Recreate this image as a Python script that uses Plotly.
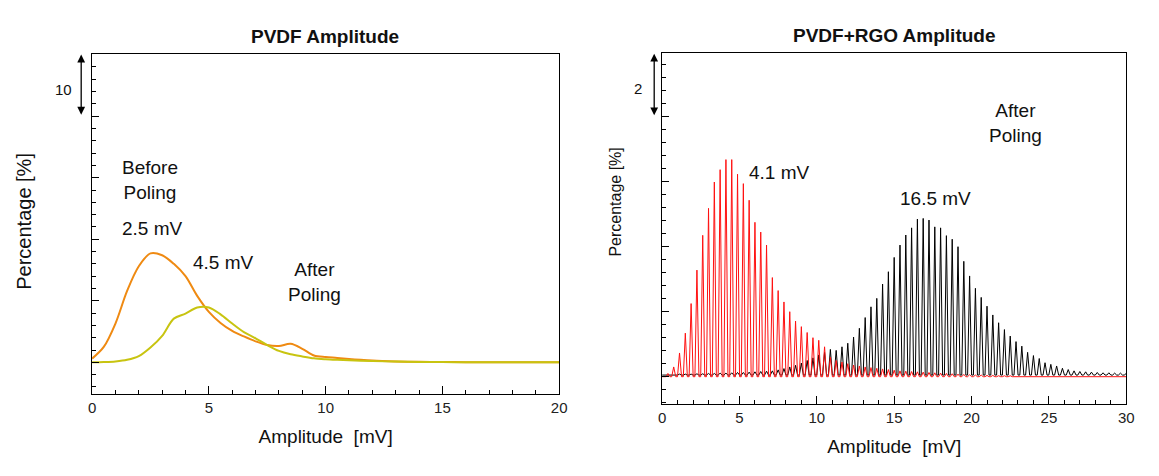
import plotly.graph_objects as go

# ---------------- data ----------------
# Left panel: PVDF amplitude distributions (percentage vs amplitude, mV)
amp_left = [0, 0.5, 1.0, 1.5, 2.0, 2.5, 3.0, 3.5, 4.0, 4.5, 5.0, 5.5, 6.0, 6.5, 7.0,
            7.5, 8.0, 8.5, 9.0, 9.5, 10.0, 10.5, 11.0, 11.5, 12.0, 13.0, 14.0, 15.0,
            16.0, 17.0, 18.0, 19.0, 20.0]
before_poling = [0.6, 2.5, 6.3, 11.6, 15.6, 17.7, 17.4, 16.0, 14.0, 10.8, 8.2, 6.4, 5.1,
                 4.2, 3.4, 2.8, 2.65, 3.0, 2.2, 1.1, 0.85, 0.72, 0.55, 0.4, 0.28, 0.15,
                 0.08, 0.05, 0.02, 0.01, 0.0, 0.0, 0.0]
after_poling = [0.0, 0.05, 0.15, 0.4, 1.0, 2.4, 4.3, 7.1, 7.9, 8.9, 8.9, 7.8, 6.3, 4.9,
                3.9, 2.8, 1.85, 1.3, 0.95, 0.65, 0.5, 0.4, 0.32, 0.26, 0.2, 0.12, 0.07,
                0.04, 0.02, 0.01, 0.0, 0.0, 0.0]

# Right panel: PVDF+RGO amplitude histogram (bin index k -> amplitude k*bin_width)
bin_width = 0.375
bins = list(range(1, 81))
rgo_before = [0.1, 0.3, 0.73, 1.34, 2.25, 3.28, 4.35, 5.18, 5.99, 6.37,
              6.68, 6.68, 6.23, 5.94, 5.43, 4.75, 4.45, 4.05, 3.05, 2.65,
              2.3, 2.0, 1.71, 1.54, 1.36, 1.2, 1.12, 0.92, 0.6, 0.5,
              0.45, 0.4, 0.36, 0.33, 0.3, 0.28, 0.26, 0.24, 0.22, 0.2,
              0.18, 0.17, 0.16, 0.15, 0.14, 0.13, 0.12, 0.11, 0.1, 0.09,
              0.08, 0.07, 0.06, 0.05, 0.05, 0.04, 0.04, 0.03, 0.03, 0.03,
              0.02, 0.02, 0.02, 0.02, 0.02, 0.02, 0.01, 0.01, 0.01, 0.01,
              0.01, 0.01, 0.01, 0.01, 0.01, 0.01, 0.01, 0.01, 0.01, 0.01]
rgo_after = [0.02, 0.02, 0.03, 0.03, 0.03, 0.04, 0.04, 0.05, 0.05, 0.06,
             0.06, 0.07, 0.08, 0.08, 0.09, 0.1, 0.11, 0.12, 0.13, 0.16,
             0.2, 0.25, 0.3, 0.37, 0.45, 0.53, 0.62, 0.7, 0.79, 0.76,
             0.87, 0.98, 1.17, 1.44, 1.77, 2.1, 2.36, 2.8, 3.18, 3.62,
             4.0, 4.31, 4.53, 4.8, 4.82, 4.77, 4.56, 4.53, 4.29, 4.18,
             3.95, 3.5, 3.05, 2.67, 2.39, 2.12, 1.85, 1.61, 1.4, 1.2,
             1.03, 0.89, 0.7, 0.6, 0.51, 0.38, 0.33, 0.28, 0.21, 0.17,
             0.13, 0.11, 0.1, 0.09, 0.08, 0.07, 0.07, 0.06, 0.06, 0.05]

# ---------------- styling ----------------
FONT = "Liberation Sans, Arial, sans-serif"
W, H = 1159, 476
ORANGE = "#EF8A12"
YELLOW = "#C8C410"
RED = "#FF1010"
BLACK = "#000000"
spike_half = 0.13      # half base width of each histogram spike (mV)
black_offset = 0.05    # small baseline offset of the black trace


def spikes(values, x_end, offset):
    xs, ys = [0.0], [offset]
    for k, v in zip(bins, values):
        c = k * bin_width
        xs += [c - spike_half, c, c + spike_half]
        ys += [offset, offset + v, offset]
    xs.append(x_end)
    ys.append(offset)
    return xs, ys


def px(x):
    return x / W


def py(y):
    return 1 - y / H


fig = go.Figure()

fig.add_trace(go.Scatter(x=amp_left, y=before_poling, mode="lines",
                         line=dict(color=ORANGE, width=2, shape="spline", smoothing=0.9),
                         xaxis="x", yaxis="y", showlegend=False))
fig.add_trace(go.Scatter(x=amp_left, y=after_poling, mode="lines",
                         line=dict(color=YELLOW, width=2, shape="spline", smoothing=0.9),
                         xaxis="x", yaxis="y", showlegend=False))

bx, by = spikes(rgo_after, 30, black_offset)
fig.add_trace(go.Scatter(x=bx, y=by, mode="lines", line=dict(color=BLACK, width=1),
                         xaxis="x2", yaxis="y2", showlegend=False))
rx, ry = spikes(rgo_before, 30, 0.0)
fig.add_trace(go.Scatter(x=rx, y=ry, mode="lines", line=dict(color=RED, width=1),
                         xaxis="x2", yaxis="y2", showlegend=False))

axis_common = dict(showline=True, linecolor="black", linewidth=1, mirror=True,
                   showgrid=False, zeroline=False, ticks="inside", tickcolor="black",
                   tickfont=dict(family=FONT, size=15, color="#222"))

fig.update_layout(
    height=H, autosize=True,
    margin=dict(l=0, r=0, t=0, b=0),
    paper_bgcolor="white", plot_bgcolor="white",
    font=dict(family=FONT, color="#111"),
    xaxis=dict(domain=[px(89), px(561)], range=[0, 20], anchor="y",
               tickmode="linear", tick0=0, dtick=5, ticklen=8,
               minor=dict(ticks="inside", ticklen=4, dtick=1, tickcolor="black"),
               title=dict(text="Amplitude\u00a0 [mV]", font=dict(family=FONT, size=19),
                          standoff=14),
               **axis_common),
    yaxis=dict(domain=[py(394), py(54)], range=[-5.15, 50.1], anchor="x",
               tickmode="linear", tick0=0, dtick=10, ticklen=7, showticklabels=False,
               minor=dict(ticks="inside", ticklen=4, dtick=2, tickcolor="black"),
               **axis_common),
    xaxis2=dict(domain=[px(665), px(1134)], range=[0, 30], anchor="y2",
                tickmode="linear", tick0=0, dtick=5, ticklen=8,
                minor=dict(ticks="inside", ticklen=4, dtick=1, tickcolor="black"),
                title=dict(text="Amplitude\u00a0 [mV]", font=dict(family=FONT, size=19),
                           standoff=14),
                **axis_common),
    yaxis2=dict(domain=[py(404), py(53)], range=[-0.84, 9.96], anchor="x2",
                tickmode="linear", tick0=0, dtick=2, ticklen=7, showticklabels=False,
                minor=dict(ticks="inside", ticklen=4, dtick=0.4, tickcolor="black"),
                **axis_common),
)

ann = []


def text(x, y, s, size=19, bold=False):
    ann.append(dict(x=px(x), y=py(y), xref="paper", yref="paper", text=(f"<b>{s}</b>" if bold else s),
                    showarrow=False, xanchor="center", yanchor="middle",
                    font=dict(family=FONT, size=size, color="#111")))


# titles
text(324, 37, "PVDF Amplitude", size=19, bold=True)
text(900, 36, "PVDF+RGO Amplitude", size=19, bold=True)
# y-axis titles
ann.append(dict(x=px(20), y=py(221), xref="paper", yref="paper", text="Percentage [%]",
                textangle=-90, showarrow=False, xanchor="center", yanchor="middle",
                font=dict(family=FONT, size=20, color="#111")))
ann.append(dict(x=px(617), y=py(202), xref="paper", yref="paper", text="Percentage [%]",
                textangle=-90, showarrow=False, xanchor="center", yanchor="middle",
                font=dict(family=FONT, size=16, color="#111")))
# in-plot labels
text(148, 180, "Before<br>Poling")
text(150, 228, "2.5 mV")
text(222, 262, "4.5 mV")
text(314, 282, "After<br>Poling")
text(784, 172, "4.1 mV")
text(941, 198, "16.5 mV")
text(1022, 123, "After<br>Poling")
# scale bars
text(60, 89, "10", size=15)
text(641, 88, "2", size=15)
ann.append(dict(x=px(78), y=50.0, xref="paper", yref="y", ax=0, ay=40.0, axref="pixel",
                ayref="y", text="", showarrow=True, arrowhead=2, arrowside="end+start",
                arrowsize=1.2, arrowwidth=1.3, arrowcolor="black"))
ann.append(dict(x=px(657), y=9.94, xref="paper", yref="y2", ax=0, ay=8.0, axref="pixel",
                ayref="y2", text="", showarrow=True, arrowhead=2, arrowside="end+start",
                arrowsize=1.2, arrowwidth=1.3, arrowcolor="black"))

fig.update_layout(annotations=ann)
fig.write_html("out.html",
               default_width="100%", default_height="476px",
               config={"displayModeBar": False, "responsive": True},
               post_script="document.body.style.margin='0';"
                           "document.body.style.overflow='hidden';"
                           "Plotly.Plots.resize(document.getElementById('{plot_id}'));")
